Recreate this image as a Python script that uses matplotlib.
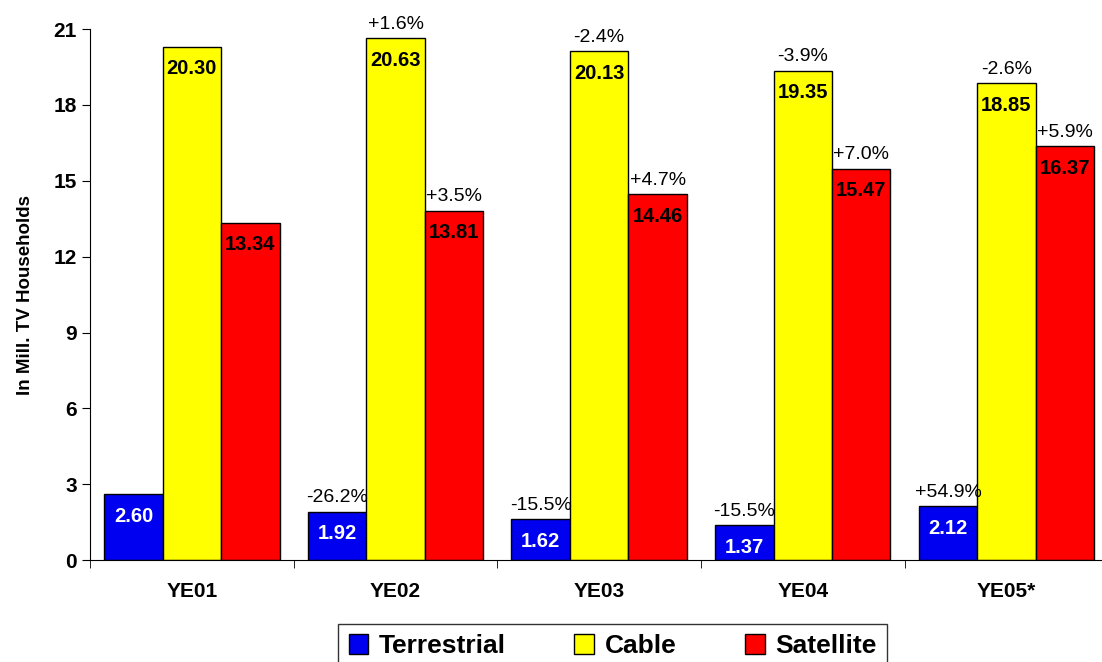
import numpy as np
from matplotlib import pyplot as plt

plt.rcParams['font.family'] = ['Liberation Sans', 'DejaVu Sans']

years = ['YE01', 'YE02', 'YE03', 'YE04', 'YE05*']
terrestrial = [2.60, 1.92, 1.62, 1.37, 2.12]
cable = [20.30, 20.63, 20.13, 19.35, 18.85]
satellite = [13.34, 13.81, 14.46, 15.47, 16.37]
terr_chg = ['', '-26.2%', '-15.5%', '-15.5%', '+54.9%']
cable_chg = ['', '+1.6%', '-2.4%', '-3.9%', '-2.6%']
sat_chg = ['', '+3.5%', '+4.7%', '+7.0%', '+5.9%']
yticks = [0, 3, 6, 9, 12, 15, 18, 21]

fig = plt.figure(figsize=(11.02, 6.62), dpi=100)
ax = fig.add_axes([0.0817, 0.154, 0.924, 0.802])

x = np.arange(len(years))
w = 0.287
series = [
    (terrestrial, terr_chg, '#0000f0', 'white', 'Terrestrial', -w),
    (cable, cable_chg, '#ffff00', 'black', 'Cable', 0),
    (satellite, sat_chg, '#ff0000', 'black', 'Satellite', w),
]
for vals, chg, col, tcol, name, off in series:
    bars = ax.bar(x + off, vals, w, color=col, edgecolor='black', linewidth=1, label=name)
    for b, v, c in zip(bars, vals, chg):
        cx = b.get_x() + b.get_width() / 2
        ax.annotate('%.2f' % v, (cx, v), xytext=(0, -9), textcoords='offset points',
                    ha='center', va='top', fontsize=14.5, fontweight='bold', color=tcol)
        if c:
            ax.annotate(c, (cx, v), xytext=(0, 4), textcoords='offset points',
                        ha='center', va='bottom', fontsize=14, color='black')

ax.set_xlim(-0.5, 4.5)
ax.set_ylim(0, 21)
ax.set_yticks(yticks)
ax.set_xticks(x)
ax.set_xticklabels(years, fontsize=15, fontweight='bold')
ax.set_xticks(np.arange(-0.5, 4.5, 1), minor=True)
ax.tick_params(axis='x', which='major', length=0, pad=16)
ax.tick_params(axis='x', which='minor', length=6, direction='out')
ax.tick_params(axis='y', labelsize=15, length=6, direction='out')
for lbl in ax.get_yticklabels():
    lbl.set_fontweight('bold')
ax.set_ylabel('In Mill. TV Households', fontsize=13.5, fontweight='bold', labelpad=14)
ax.spines['top'].set_visible(False)
ax.spines['right'].set_visible(False)

leg = fig.legend(loc='lower center', bbox_to_anchor=(0.556, -0.03), ncol=3,
                 prop={'size': 19, 'weight': 'bold'}, frameon=True, fancybox=False,
                 edgecolor='black', handlelength=0.75, handleheight=0.75,
                 handletextpad=0.4, columnspacing=2.6, borderpad=0.4)

fig.savefig('out.png', dpi=100)
